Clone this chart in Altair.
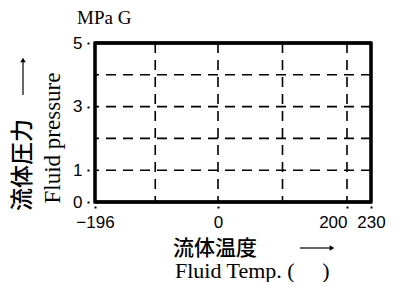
import altair as alt
import pandas as pd

# ---- data ----
x_tick_values = [-196, 0, 200, 230]
y_tick_values = [0, 1, 3, 5]
x_grid = [-100, 0, 100, 200]
y_grid = [1, 2, 3, 4]
x_frame = [-196, 230]
y_frame = [0, 5]

y_unit = "MPa G"
x_title_jp = "流体温度"
x_title_en = "Fluid Temp. (\u00a0\u00a0\u00a0\u00a0\u00a0)"
y_title_jp = "流体圧力"
y_title_en = "Fluid pressure"

W, H = 276, 159
xscale = alt.Scale(domain=[-196, 0, 200, 230], range=[0, 123, 252, 276], nice=False, zero=False)
yscale = alt.Scale(domain=[0, 5], nice=False, zero=False)

dash = [10, 7]

x_axis = alt.Axis(
    values=x_tick_values, grid=False, domain=False, title=None,
    tickSize=2, tickWidth=2, tickColor="black", offset=4,
    labelFont="Liberation Sans", labelFontSize=17, labelColor="black",
    labelPadding=6,
    labelAlign={"condition": {"test": "datum.value == 200", "value": "right"}, "value": "center"},
)
y_axis = alt.Axis(
    values=y_tick_values, grid=False, domain=False, title=None,
    tickSize=2, tickWidth=2, tickColor="black", offset=6,
    labelFont="Liberation Sans", labelFontSize=17, labelColor="black",
    labelPadding=5,
)

vgrid = alt.Chart(pd.DataFrame({"t": x_grid})).mark_rule(
    strokeDash=dash, strokeWidth=1.6, color="black"
).encode(x=alt.X("t:Q", scale=xscale, axis=x_axis))

hgrid = alt.Chart(pd.DataFrame({"v": y_grid})).mark_rule(
    strokeDash=dash, strokeWidth=1.6, color="black"
).encode(y=alt.Y("v:Q", scale=yscale, axis=y_axis))

vframe = alt.Chart(pd.DataFrame({"t": x_frame})).mark_rule(
    strokeWidth=2.8, color="black"
).encode(x=alt.X("t:Q", scale=xscale))

hframe = alt.Chart(pd.DataFrame({"v": y_frame})).mark_rule(
    strokeWidth=2.8, color="black"
).encode(y=alt.Y("v:Q", scale=yscale))

box = alt.Chart(pd.DataFrame({"x0": [x_frame[0]], "x1": [x_frame[1]],
                              "y0": [y_frame[0]], "y1": [y_frame[1]]})).mark_rect(
    filled=False, stroke="black", strokeWidth=2.8, fill="transparent", opacity=1
).encode(x=alt.X("x0:Q", scale=xscale), x2="x1:Q",
         y=alt.Y("y0:Q", scale=yscale), y2="y1:Q")

dummy = pd.DataFrame({"a": [0]})

def txt(s, x, y, font, size, angle=0, align="center", baseline="middle", weight="normal"):
    return alt.Chart(dummy).mark_text(
        font=font, fontSize=size, angle=angle, align=align, baseline=baseline,
        color="black", fontWeight=weight
    ).encode(x=alt.value(x), y=alt.value(y), text=alt.value(s))

t_unit = txt(y_unit, -18, -25, "Liberation Serif", 19, align="left")
t_xjp = txt(x_title_jp, 120, 206, "Noto Sans CJK JP", 21, weight=500)
t_xen = txt(x_title_en, 80, 235, "Liberation Serif", 22, align="left", baseline="alphabetic")
t_yjp = txt(y_title_jp, -72, 122, "Noto Sans CJK JP", 23, angle=270, weight=500)
t_yen = txt(y_title_en, -42, 95, "Liberation Serif", 23, angle=270)

arrow_r = alt.Chart(dummy).mark_rule(color="black", strokeWidth=1.2).encode(
    x=alt.value(205), x2=alt.value(235), y=alt.value(205))
head_r = alt.Chart(dummy).mark_point(shape="triangle-right", filled=True, size=30,
                                     color="black", opacity=1).encode(
    x=alt.value(237), y=alt.value(205))
arrow_u = alt.Chart(dummy).mark_rule(color="black", strokeWidth=1.2).encode(
    x=alt.value(-72), y=alt.value(19), y2=alt.value(52))
head_u = alt.Chart(dummy).mark_point(shape="triangle-up", filled=True, size=30,
                                     color="black", opacity=1).encode(
    x=alt.value(-72), y=alt.value(17))

chart = alt.layer(
    vgrid, hgrid, box, vframe, hframe, t_unit, t_xjp, t_xen, t_yjp, t_yen,
    arrow_r, head_r, arrow_u, head_u
).properties(
    width=W, height=H,
    padding={"left": 87, "top": 35, "right": 19, "bottom": 80},
    autosize=alt.AutoSizeParams(type="none"),
    background="white",
).configure_view(
    stroke="black", strokeWidth=2.8
)

chart.save("out.html", embed_options={"renderer": "svg", "actions": False})
